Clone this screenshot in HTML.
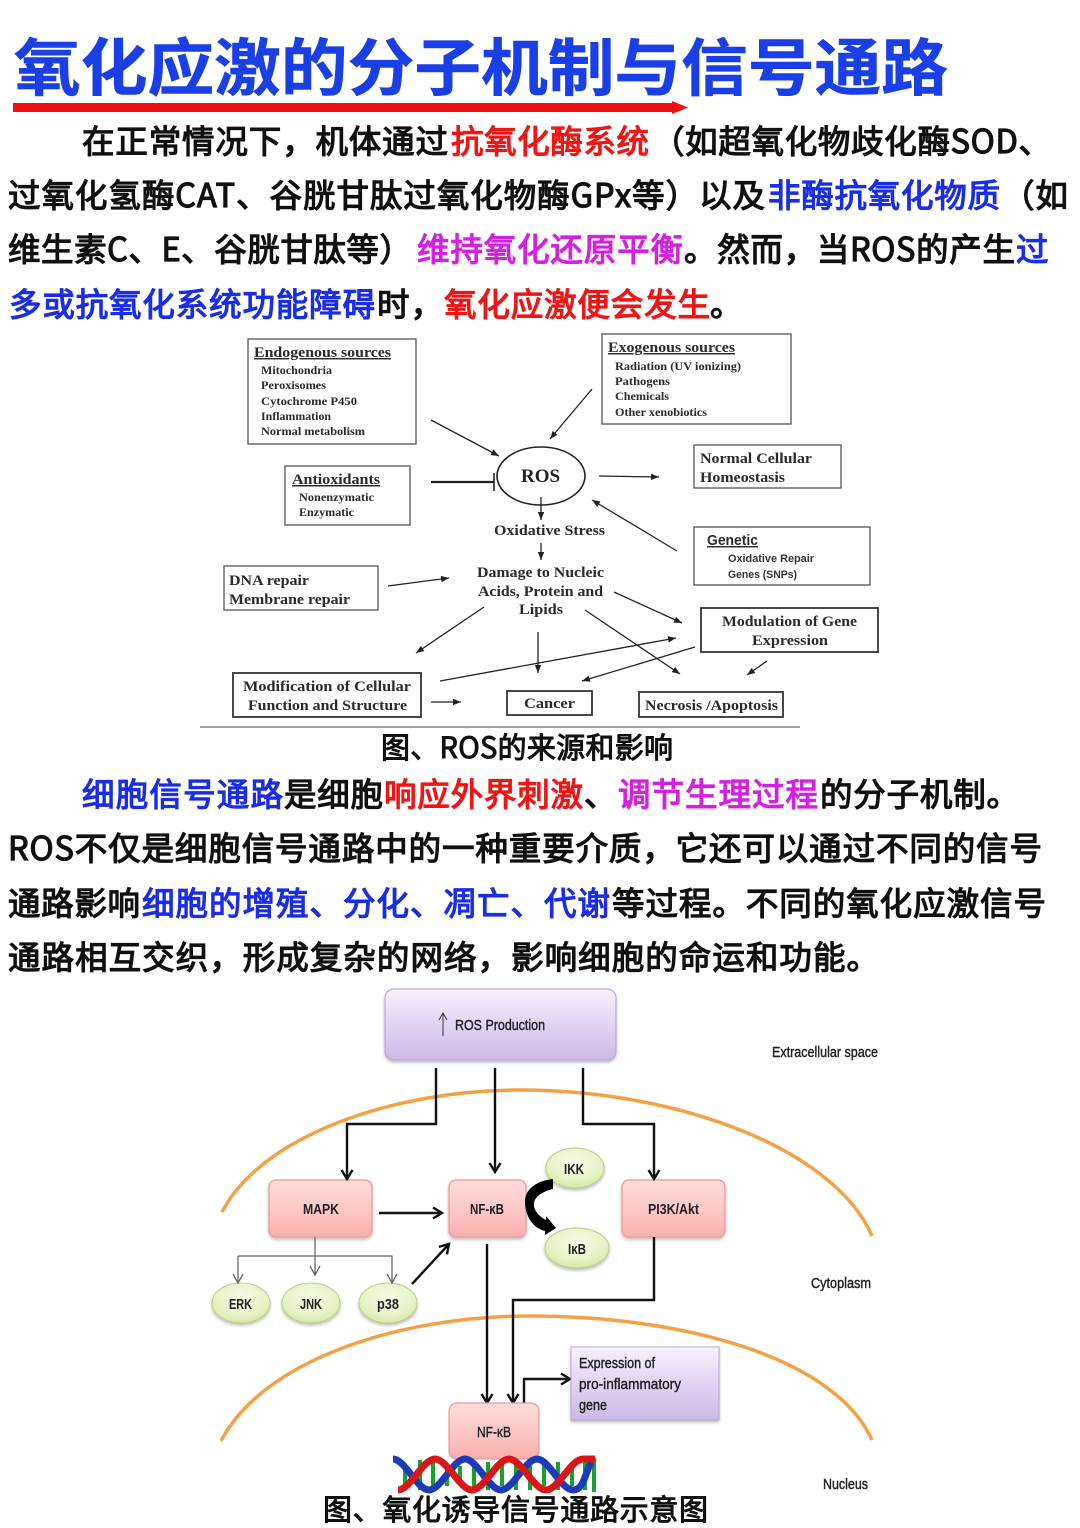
<!DOCTYPE html>
<html lang="zh">
<head>
<meta charset="utf-8">
<title>氧化应激的分子机制与信号通路</title>
<style>
html,body{margin:0;padding:0;background:#fff;width:1080px;height:1528px;overflow:hidden}
svg{display:block}
.cn{font-family:"Noto Sans CJK SC","Liberation Sans",sans-serif;font-weight:400;font-size:32.5px;color:#111;fill:currentColor;stroke:currentColor;stroke-width:1.2px}
.cap{font-size:29px;stroke-width:1px}
.r{color:#f01414}.b{color:#1a2de8}.m{color:#d420e0}
.s{font-family:"Liberation Serif",serif;font-weight:700;fill:#2a2a2a}
.c{font-family:"Liberation Sans",sans-serif;font-weight:700;fill:#222}
.t{font-family:"Liberation Sans",sans-serif;font-weight:400;fill:#222;stroke:#222;stroke-width:.4px}
.box{fill:#fff;stroke:#555;stroke-width:1.3}
.box2{fill:#fff;stroke:#333;stroke-width:1.8}
.ln{stroke:#222;stroke-width:1.3;fill:none}
.k{stroke:#111;stroke-width:2.4;fill:none}
.g{stroke:#666;stroke-width:1.3;fill:none}
.pk{fill:url(#pk);stroke:#e69a98;stroke-width:1.2}
.gn{fill:url(#gr);stroke:#b9cf80;stroke-width:1}
</style>
</head>
<body>
<svg width="1080" height="1528" viewBox="0 0 1080 1528" xmlns="http://www.w3.org/2000/svg">
<defs>
<marker id="a1" markerWidth="9" markerHeight="8" refX="8" refY="4" orient="auto" markerUnits="userSpaceOnUse"><path d="M0 .8L8 4L0 7.2z" fill="#222"/></marker>
<marker id="a2" markerWidth="14" markerHeight="14" refX="11" refY="7" orient="auto" markerUnits="userSpaceOnUse"><path d="M2 1.5L11 7L2 12.5" fill="none" stroke="#111" stroke-width="2.4"/></marker>
<marker id="a3" markerWidth="12" markerHeight="14" refX="10" refY="6" orient="auto" markerUnits="userSpaceOnUse"><path d="M1 1L10 6L1 11" fill="none" stroke="#666" stroke-width="1.3"/></marker>
<linearGradient id="pu" x1="0" y1="0" x2="0" y2="1"><stop offset="0" stop-color="#f9f0fc"/><stop offset=".45" stop-color="#e4d6f3"/><stop offset="1" stop-color="#cbb8e4"/></linearGradient>
<linearGradient id="pk" x1="0" y1="0" x2="0" y2="1"><stop offset="0" stop-color="#fddcda"/><stop offset=".5" stop-color="#fcc9c7"/><stop offset="1" stop-color="#faaeac"/></linearGradient>
<radialGradient id="gr" cx=".5" cy=".35" r=".7"><stop offset="0" stop-color="#f7fbe6"/><stop offset=".6" stop-color="#e8f3c8"/><stop offset="1" stop-color="#d3e69f"/></radialGradient>
<filter id="sh" x="-10%" y="-10%" width="120%" height="125%"><feDropShadow dx="0" dy="2" stdDeviation="1.5" flood-color="#000" flood-opacity=".28"/></filter>
</defs>

<!-- Title -->
<text x="14" y="90" font-size="62" textLength="934" lengthAdjust="spacingAndGlyphs" style="font-family:'Noto Sans CJK SC','Liberation Sans',sans-serif;font-weight:700;fill:#1a3fe6;stroke:#1a3fe6;stroke-width:.6">氧化应激的分子机制与信号通路</text>
<path d="M13 103H672V101L688 107.5L672 114V112H13z" fill="#f01010"/>

<!-- Paragraph 1 -->
<text class="cn" x="82" y="153" textLength="366">在正常情况下，机体通过</text>
<text class="cn r" x="451" y="153" textLength="198">抗氧化酶系统</text>
<text class="cn" x="652" y="153" textLength="399">（如超氧化物歧化酶SOD、</text>

<text class="cn" x="8" y="207" textLength="757">过氧化氢酶CAT、谷胱甘肽过氧化物酶GPx等）以及</text>
<text class="cn b" x="768" y="207" textLength="232">非酶抗氧化物质</text>
<text class="cn" x="1002" y="207" textLength="66">（如</text>

<text class="cn" x="8" y="261" textLength="404">维生素C、E、谷胱甘肽等）</text>
<text class="cn m" x="417" y="261" textLength="266">维持氧化还原平衡</text>
<text class="cn" x="684" y="261" textLength="331">。然而，当ROS的产生</text>
<text class="cn b" x="1016" y="261" textLength="32">过</text>

<text class="cn b" x="9" y="316" textLength="366">多或抗氧化系统功能障碍</text>
<text class="cn" x="377" y="316" textLength="66">时，</text>
<text class="cn r" x="444" y="316" textLength="266">氧化应激便会发生</text>
<text class="cn" x="710" y="316" textLength="33">。</text>

<!-- Diagram 1 -->
<g>
<rect class="box" x="248" y="339" width="168" height="105"/>
<text class="s" x="254" y="357" font-size="14.5" text-decoration="underline" textLength="137" lengthAdjust="spacingAndGlyphs">Endogenous sources</text>
<g font-size="11.5">
<text class="s" x="261" y="374" textLength="71" lengthAdjust="spacingAndGlyphs">Mitochondria</text>
<text class="s" x="261" y="389" textLength="65" lengthAdjust="spacingAndGlyphs">Peroxisomes</text>
<text class="s" x="261" y="405" textLength="96" lengthAdjust="spacingAndGlyphs">Cytochrome P450</text>
<text class="s" x="261" y="420" textLength="70" lengthAdjust="spacingAndGlyphs">Inflammation</text>
<text class="s" x="261" y="435" textLength="104" lengthAdjust="spacingAndGlyphs">Normal metabolism</text>
</g>

<rect class="box" x="602" y="334" width="189" height="90"/>
<text class="s" x="608" y="352" font-size="14.5" text-decoration="underline" textLength="127" lengthAdjust="spacingAndGlyphs">Exogenous sources</text>
<g font-size="11.5">
<text class="s" x="615" y="370" textLength="126" lengthAdjust="spacingAndGlyphs">Radiation (UV ionizing)</text>
<text class="s" x="615" y="385" textLength="55" lengthAdjust="spacingAndGlyphs">Pathogens</text>
<text class="s" x="615" y="400" textLength="54" lengthAdjust="spacingAndGlyphs">Chemicals</text>
<text class="s" x="615" y="416" textLength="92" lengthAdjust="spacingAndGlyphs">Other xenobiotics</text>
</g>

<rect class="box" x="285" y="466" width="125" height="59"/>
<text class="s" x="292" y="484" font-size="15" text-decoration="underline" textLength="88" lengthAdjust="spacingAndGlyphs">Antioxidants</text>
<text class="s" x="299" y="501" font-size="11.5" textLength="75" lengthAdjust="spacingAndGlyphs">Nonenzymatic</text>
<text class="s" x="299" y="516" font-size="11.5" textLength="55" lengthAdjust="spacingAndGlyphs">Enzymatic</text>

<rect class="box" x="694" y="445" width="147" height="43"/>
<text class="s" x="700" y="463" font-size="15" textLength="112" lengthAdjust="spacingAndGlyphs">Normal Cellular</text>
<text class="s" x="700" y="482" font-size="15" textLength="85" lengthAdjust="spacingAndGlyphs">Homeostasis</text>

<rect class="box" x="694" y="527" width="176" height="58"/>
<text x="707" y="545" font-size="14.5" font-weight="700" textLength="51" lengthAdjust="spacingAndGlyphs" text-decoration="underline" style="font-family:'Liberation Sans',sans-serif;fill:#2a2a2a">Genetic</text>
<text x="728" y="562" font-size="11" font-weight="700" textLength="86" lengthAdjust="spacingAndGlyphs" style="font-family:'Liberation Sans',sans-serif;fill:#333">Oxidative Repair</text>
<text x="728" y="578" font-size="11" font-weight="700" textLength="69" lengthAdjust="spacingAndGlyphs" style="font-family:'Liberation Sans',sans-serif;fill:#333">Genes (SNPs)</text>

<rect class="box" x="224" y="566" width="154" height="44"/>
<text class="s" x="229" y="585" font-size="15" textLength="80" lengthAdjust="spacingAndGlyphs">DNA repair</text>
<text class="s" x="229" y="604" font-size="15" textLength="121" lengthAdjust="spacingAndGlyphs">Membrane repair</text>

<rect class="box2" x="701" y="608" width="177" height="44"/>
<text class="s" x="722" y="626" font-size="15" textLength="135" lengthAdjust="spacingAndGlyphs">Modulation of Gene</text>
<text class="s" x="752" y="645" font-size="15" textLength="76" lengthAdjust="spacingAndGlyphs">Expression</text>

<rect class="box2" x="233" y="673" width="188" height="44"/>
<text class="s" x="243" y="691" font-size="15" textLength="168" lengthAdjust="spacingAndGlyphs">Modification of  Cellular</text>
<text class="s" x="248" y="710" font-size="15" textLength="159" lengthAdjust="spacingAndGlyphs">Function and Structure</text>

<rect class="box2" x="507" y="691" width="85" height="24"/>
<text class="s" x="524" y="708" font-size="15" textLength="51" lengthAdjust="spacingAndGlyphs">Cancer</text>

<rect class="box2" x="639" y="692" width="144" height="25"/>
<text class="s" x="645" y="710" font-size="15" textLength="133" lengthAdjust="spacingAndGlyphs">Necrosis /Apoptosis</text>

<ellipse cx="541" cy="476" rx="44" ry="29" fill="#fff" stroke="#222" stroke-width="1.6"/>
<text class="s" x="521" y="482" font-size="18.5" textLength="39" lengthAdjust="spacingAndGlyphs" style="fill:#222">ROS</text>

<text class="s" x="494" y="535" font-size="15" textLength="111" lengthAdjust="spacingAndGlyphs">Oxidative Stress</text>
<text class="s" x="477" y="577" font-size="15" textLength="127" lengthAdjust="spacingAndGlyphs">Damage to Nucleic</text>
<text class="s" x="478" y="596" font-size="15" textLength="125" lengthAdjust="spacingAndGlyphs">Acids, Protein and</text>
<text class="s" x="519" y="614" font-size="15" textLength="44" lengthAdjust="spacingAndGlyphs">Lipids</text>

<line class="ln" x1="431" y1="420" x2="499" y2="456" marker-end="url(#a1)"/>
<line class="ln" x1="592" y1="389" x2="550" y2="439" marker-end="url(#a1)"/>
<line x1="431" y1="482" x2="494" y2="482" stroke="#222" stroke-width="2.2"/>
<line x1="494" y1="473" x2="494" y2="491" stroke="#222" stroke-width="1.6"/>
<line class="ln" x1="599" y1="476" x2="659" y2="477" marker-end="url(#a1)"/>
<line class="ln" x1="541" y1="497" x2="541" y2="520" marker-end="url(#a1)"/>
<line class="ln" x1="541" y1="543" x2="541" y2="560" marker-end="url(#a1)"/>
<line class="ln" x1="677" y1="551" x2="592" y2="500" marker-end="url(#a1)"/>
<line class="ln" x1="388" y1="586" x2="449" y2="578" marker-end="url(#a1)"/>
<line class="ln" x1="614" y1="592" x2="682" y2="623" marker-end="url(#a1)"/>
<line class="ln" x1="484" y1="607" x2="416" y2="653" marker-end="url(#a1)"/>
<line class="ln" x1="538" y1="632" x2="538" y2="673" marker-end="url(#a1)"/>
<line class="ln" x1="585" y1="610" x2="680" y2="674" marker-end="url(#a1)"/>
<line class="ln" x1="440" y1="681" x2="676" y2="638" marker-end="url(#a1)"/>
<line class="ln" x1="695" y1="647" x2="582" y2="681" marker-end="url(#a1)"/>
<line class="ln" x1="767" y1="661" x2="747" y2="675" marker-end="url(#a1)"/>
<line class="ln" x1="431" y1="702" x2="461" y2="702" marker-end="url(#a1)"/>
<line x1="200" y1="727" x2="800" y2="727" stroke="#444" stroke-width="1"/>
</g>

<text class="cn cap" x="381" y="758" textLength="292">图、ROS的来源和影响</text>

<!-- Paragraph 2 -->
<text class="cn b" x="82" y="806" textLength="201">细胞信号通路</text>
<text class="cn" x="284" y="806" textLength="99">是细胞</text>
<text class="cn r" x="384" y="806" textLength="199">响应外界刺激</text>
<text class="cn" x="584" y="806" textLength="33">、</text>
<text class="cn m" x="618" y="806" textLength="200">调节生理过程</text>
<text class="cn" x="820" y="806" textLength="199">的分子机制。</text>

<text class="cn" x="8" y="860" textLength="1034">ROS不仅是细胞信号通路中的一种重要介质，它还可以通过不同的信号</text>

<text class="cn" x="8" y="915" textLength="132">通路影响</text>
<text class="cn b" x="142" y="915" textLength="468">细胞的增殖、分化、凋亡、代谢</text>
<text class="cn" x="612" y="915" textLength="434">等过程。不同的氧化应激信号</text>

<text class="cn" x="8" y="969" textLength="871">通路相互交织，形成复杂的网络，影响细胞的命运和功能。</text>

<!-- Diagram 2 -->
<path d="M222 1212C262 1135 395 1090 520 1090C680 1090 835 1150 872 1236" fill="none" stroke="#f4a044" stroke-width="3.5"/>
<path d="M221 1441C262 1362 395 1316 530 1316C685 1316 835 1358 872 1440" fill="none" stroke="#f4a044" stroke-width="3.5"/>

<rect x="385" y="989" width="231" height="71" rx="9" fill="url(#pu)" stroke="#b9a8d6" stroke-width="1.2" filter="url(#sh)"/>
<line x1="443" y1="1036" x2="443" y2="1014" stroke="#333" stroke-width="1"/>
<path d="M439 1020L443 1013L447 1020" fill="none" stroke="#333" stroke-width="1"/>
<text class="t" x="455" y="1030" font-size="14.5" textLength="90" lengthAdjust="spacingAndGlyphs">ROS Production</text>
<text class="t" x="772" y="1057" font-size="14.5" textLength="106" lengthAdjust="spacingAndGlyphs">Extracellular space</text>
<text class="t" x="811" y="1288" font-size="14.5" textLength="60" lengthAdjust="spacingAndGlyphs">Cytoplasm</text>
<text class="t" x="823" y="1489" font-size="14.5" textLength="45" lengthAdjust="spacingAndGlyphs">Nucleus</text>

<rect class="pk" x="269" y="1180" width="103" height="57" rx="7" filter="url(#sh)"/>
<text class="c" x="303" y="1214" font-size="15" textLength="36" lengthAdjust="spacingAndGlyphs">MAPK</text>
<rect class="pk" x="449" y="1180" width="77" height="57" rx="7" filter="url(#sh)"/>
<text class="c" x="470" y="1214" font-size="15" textLength="34" lengthAdjust="spacingAndGlyphs">NF-κB</text>
<rect class="pk" x="622" y="1180" width="103" height="57" rx="7" filter="url(#sh)"/>
<text class="c" x="648" y="1214" font-size="15" textLength="51" lengthAdjust="spacingAndGlyphs">PI3K/Akt</text>

<ellipse class="gn" cx="575" cy="1168" rx="29" ry="20" filter="url(#sh)"/>
<text class="c" x="564" y="1174" font-size="15" textLength="20" lengthAdjust="spacingAndGlyphs">IKK</text>
<ellipse class="gn" cx="577" cy="1248" rx="32" ry="20" filter="url(#sh)"/>
<text class="c" x="568" y="1254" font-size="15" textLength="18" lengthAdjust="spacingAndGlyphs">IκB</text>
<ellipse class="gn" cx="241" cy="1303" rx="29" ry="20" filter="url(#sh)"/>
<text class="c" x="229" y="1309" font-size="15" textLength="23" lengthAdjust="spacingAndGlyphs">ERK</text>
<ellipse class="gn" cx="311" cy="1303" rx="29" ry="20" filter="url(#sh)"/>
<text class="c" x="300" y="1309" font-size="15" textLength="22" lengthAdjust="spacingAndGlyphs">JNK</text>
<ellipse class="gn" cx="388" cy="1303" rx="29" ry="20" filter="url(#sh)"/>
<text class="c" x="377" y="1309" font-size="15" textLength="22" lengthAdjust="spacingAndGlyphs">p38</text>

<path class="k" d="M436 1068V1124H347V1179" marker-end="url(#a2)"/>
<path class="k" d="M495 1068V1172" marker-end="url(#a2)"/>
<path class="k" d="M583 1068V1124H654V1179" marker-end="url(#a2)"/>
<path class="k" d="M379 1213H442" marker-end="url(#a2)"/>
<path class="g" d="M315 1237V1275" marker-end="url(#a3)"/>
<path class="g" d="M238 1256H392V1283" marker-end="url(#a3)"/>
<path class="g" d="M238 1256V1283" marker-end="url(#a3)"/>
<path class="k" d="M412 1284L449 1244" marker-end="url(#a2)"/>
<path class="k" d="M487 1244V1403" marker-end="url(#a2)"/>
<path class="k" d="M654 1237V1300H513V1403" marker-end="url(#a2)"/>
<path class="k" d="M524 1403V1379H570" marker-end="url(#a2)"/>

<!-- curved arrow -->
<path d="M553 1179C535 1181 524 1190 525 1204C526 1217 533 1228 545 1231L545 1235L556 1228L546 1216L546 1220C538 1216 533 1209 534 1203C535 1196 544 1191 553 1189z" fill="#000"/>

<rect class="pk" x="449" y="1403" width="90" height="56" rx="8"/>
<text class="t" x="477" y="1437" font-size="14.5" textLength="34" lengthAdjust="spacingAndGlyphs">NF-κB</text>

<rect x="571" y="1347" width="148" height="73" fill="url(#pu)" stroke="#b9a8d6" stroke-width="1" filter="url(#sh)"/>
<text class="t" x="579" y="1368" font-size="15" textLength="76" lengthAdjust="spacingAndGlyphs">Expression of</text>
<text class="t" x="579" y="1389" font-size="15" textLength="102" lengthAdjust="spacingAndGlyphs">pro-inflammatory</text>
<text class="t" x="579" y="1410" font-size="15" textLength="28" lengthAdjust="spacingAndGlyphs">gene</text>

<!-- DNA -->
<g fill="none">
<path d="M405 1466V1484M420 1460V1490M433 1460V1490M447 1464V1486M460 1466V1484M474 1462V1490M488 1462V1490M502 1464V1486M516 1462V1490M530 1462V1490M544 1464V1486M558 1462V1490M572 1464V1486M585 1460V1490M594 1458V1492" stroke="#18a030" stroke-width="4"/>
<path d="M393 1459C405 1459 417 1490 429 1490S453 1459 465 1459S489 1490 501 1490S525 1459 537 1459S561 1490 573 1490S585 1470 592 1462" stroke="#1c3bb8" stroke-width="7"/>
<path d="M398 1490C410 1490 423 1459 435 1459S460 1490 472 1490S497 1459 509 1459S534 1490 546 1490S571 1459 583 1459L595 1459" stroke="#d81818" stroke-width="7"/>
</g>

<text class="cn cap" x="323" y="1520" textLength="385">图、氧化诱导信号通路示意图</text>
</svg>
</body>
</html>
